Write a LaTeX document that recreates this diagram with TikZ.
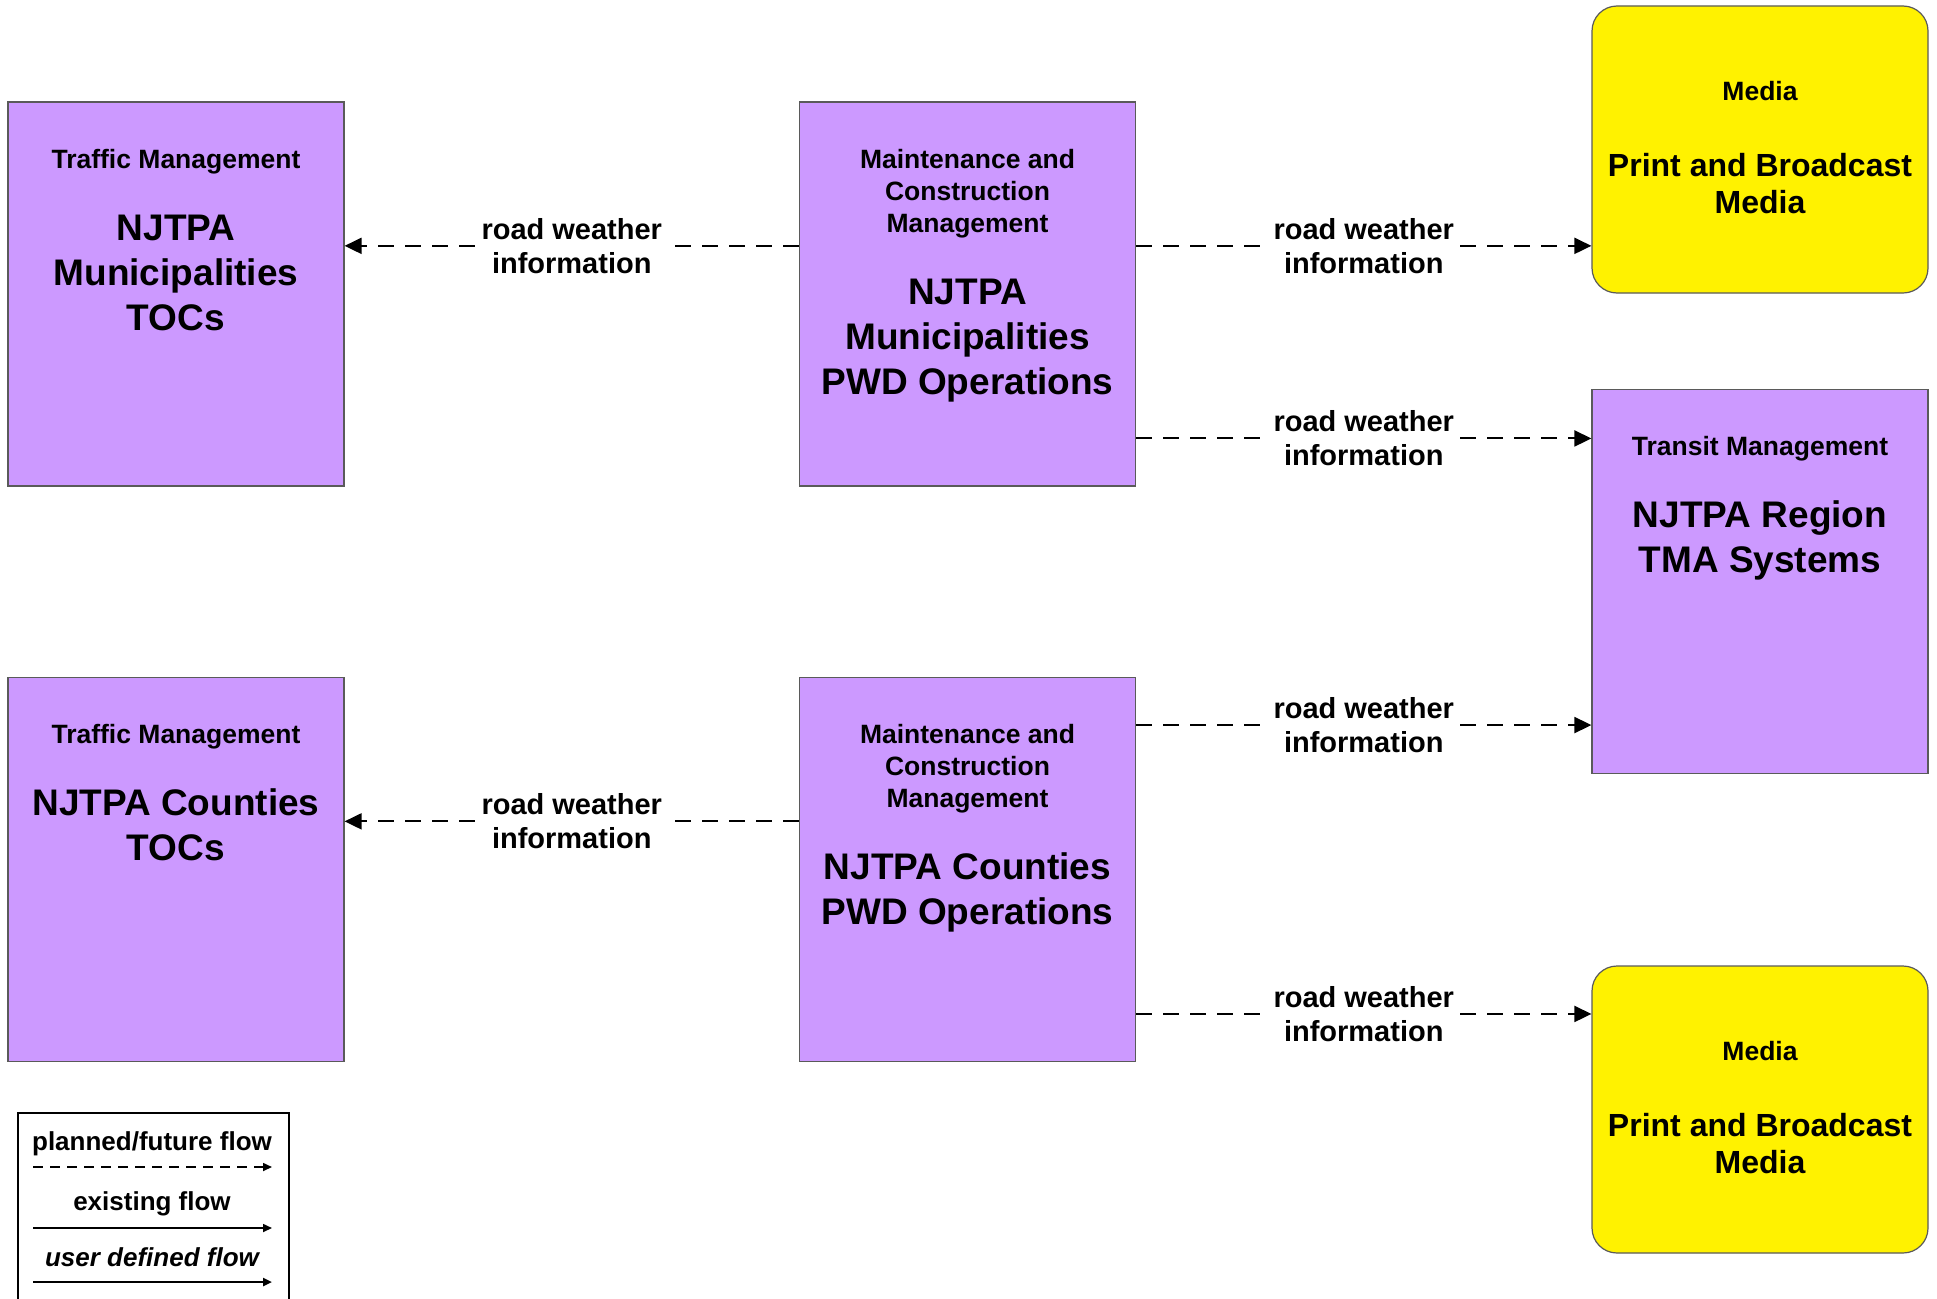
\documentclass[tikz,border=0pt]{standalone}
\usepackage{fontspec}
\setmainfont{Liberation Sans}
\usetikzlibrary{arrows.meta,calc}
\definecolor{sysviolet}{HTML}{CC99FF}
\definecolor{sysline}{HTML}{5A5A5A}
\newcommand{\headfont}{\fontsize{26.5}{32}\selectfont}
\newcommand{\namefont}{\fontsize{37}{45}\selectfont}
\newcommand{\mediafont}{\fontsize{32}{37}\selectfont}
\newcommand{\sysname}[2]{{\headfont #1\par}\vspace{27pt}{\namefont #2\par}}
\newcommand{\medianame}[2]{{\headfont #1\par}\vspace{39pt}{\mediafont #2\par}}

\begin{document}
\begin{tikzpicture}[x=1pt,y=-1pt,>={Triangle[length=17pt,width=16pt]},system/.style={draw=sysline,line width=1.2pt,fill=sysviolet,font=\bfseries,align=flush center,text width=320pt,inner xsep=8pt,inner ysep=0pt,text height=66pt,text depth=318pt},media/.style={system,fill=yellow,rounded corners=25pt,text height=94pt,text depth=193pt},flow/.style={->,line width=2pt,dash pattern=on 16pt off 11pt},flowlabel/.style={fill=white,font=\bfseries\fontsize{29}{34}\selectfont,align=center,inner xsep=3pt,inner ysep=1pt},legendtext/.style={font=\bfseries\fontsize{26}{30}\selectfont,anchor=base},legendarrow/.style={-{Triangle[length=9pt,width=8pt]},line width=1.6pt}]
\useasboundingbox (0,0) rectangle (1937,1298);
% systems
\node[system] (toc1) at (176,294) {\sysname{Traffic Management}{NJTPA\\Municipalities\\TOCs}};
\node[system] (mcm1) at (967.5,294) {\sysname{Maintenance and\\Construction\\Management}{NJTPA\\Municipalities\\PWD Operations}};
\node[media] (media1) at (1760,149.5) {\medianame{Media}{Print and Broadcast\\Media}};
\node[system] (tma) at (1760,581.5) {\sysname{Transit Management}{NJTPA Region\\TMA Systems}};
\node[system] (toc2) at (176,869.5) {\sysname{Traffic Management}{NJTPA Counties\\TOCs}};
\node[system] (mcm2) at (967.5,869.5) {\sysname{Maintenance and\\Construction\\Management}{NJTPA Counties\\PWD Operations}};
\node[media] (media2) at (1760,1109.5) {\medianame{Media}{Print and Broadcast\\Media}};
% flows
\coordinate (f1) at ($(mcm1.north west)!.375!(mcm1.south west)$); \coordinate (f2) at ($(mcm1.north east)!.375!(mcm1.south east)$); \coordinate (f3) at ($(mcm1.north east)!.875!(mcm1.south east)$);
\coordinate (f4) at ($(mcm2.north east)!.125!(mcm2.south east)$); \coordinate (f5) at ($(mcm2.north west)!.375!(mcm2.south west)$); \coordinate (f6) at ($(mcm2.north east)!.875!(mcm2.south east)$);
\draw[flow] (f1) -- (f1 -| toc1.east) node[midway,flowlabel] {road weather\\information};
\draw[flow] (f2) -- (f2 -| media1.west) node[midway,flowlabel] {road weather\\information};
\draw[flow] (f3) -- (f3 -| tma.west) node[midway,flowlabel] {road weather\\information};
\draw[flow] (f4) -- (f4 -| tma.west) node[midway,flowlabel] {road weather\\information};
\draw[flow] (f5) -- (f5 -| toc2.east) node[midway,flowlabel] {road weather\\information};
\draw[flow] (f6) -- (f6 -| media2.west) node[midway,flowlabel] {road weather\\information};
% legend
\node[draw,line width=2.4pt,minimum width=271pt,minimum height=210pt,anchor=north west,inner sep=0pt] (legend) at (17,1112) {};
\node[legendtext] (planned) at (152,1150) {planned/future flow}; \node[legendtext] (existing) at (152,1210) {existing flow}; \node[legendtext,font=\bfseries\itshape\fontsize{26}{30}\selectfont] (userdef) at (152,1266) {user defined flow};
\coordinate (pa) at (33,1167); \coordinate (pb) at (272,1167); \coordinate (ea) at (33,1228); \coordinate (eb) at (272,1228); \coordinate (ua) at (33,1282); \coordinate (ub) at (272,1282);
\draw[legendarrow,dash pattern=on 10pt off 7pt] (pa) -- (pb); \draw[legendarrow] (ea) -- (eb); \draw[legendarrow,line width=2.2pt] (ua) -- (ub);
\end{tikzpicture}
\end{document}
